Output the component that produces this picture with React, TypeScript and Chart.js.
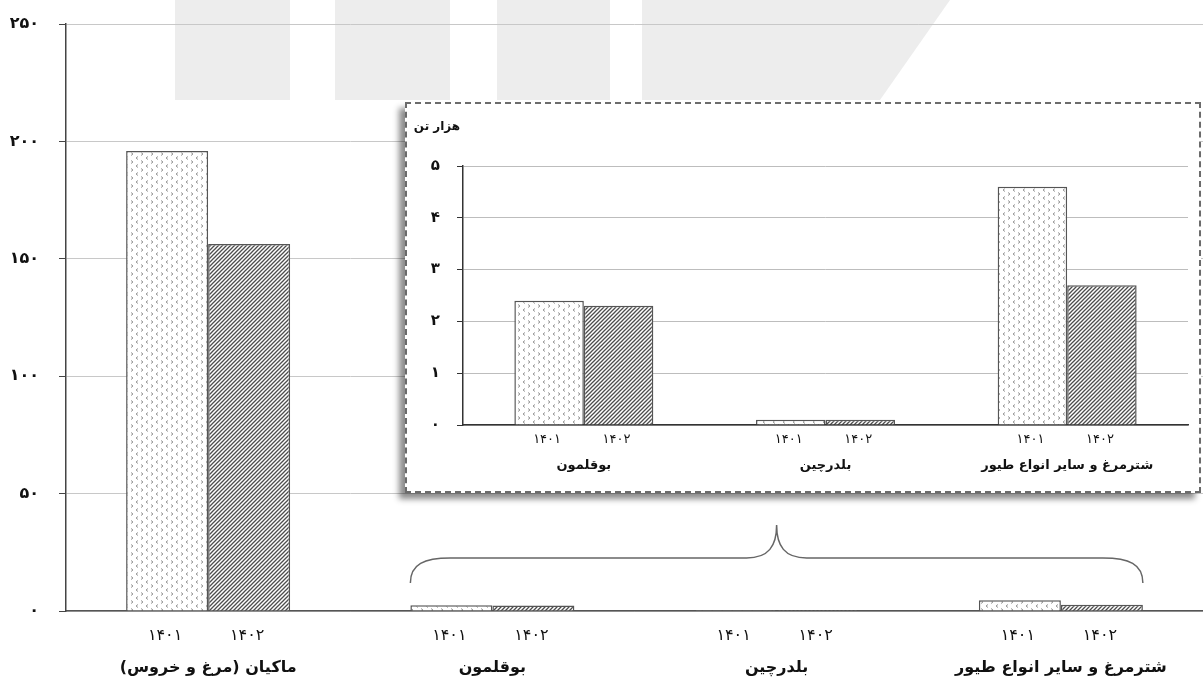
import React, { useEffect, useRef } from "react";
import { Chart, registerables } from "chart.js";

Chart.register(...registerables);

// ---------- data ----------
const categories = ["ماکیان (مرغ و خروس)", "بوقلمون", "بلدرچین", "شترمرغ و سایر انواع طیور"];
const yearLabels = ["1401", "1402"];
const values1401 = [195.9, 2.4, 0.1, 4.6];
const values1402 = [156.3, 2.3, 0.1, 2.7];
const mainTicks = [0, 50, 100, 150, 200, 250];

const insetCategories = ["بوقلمون", "بلدرچین", "شترمرغ و سایر انواع طیور"];
const insetValues1401 = [2.4, 0.1, 4.6];
const insetValues1402 = [2.3, 0.1, 2.7];
const insetTicks = [0, 1, 2, 3, 4, 5];
const insetUnit = "هزار تن";

const FONT = "'DejaVu Sans', 'Noto Sans', sans-serif";

const toFa = (v: number | string) =>
  String(v).replace(/\d/g, (d) => "۰۱۲۳۴۵۶۷۸۹"[Number(d)]);

function makeDots(): CanvasPattern {
  const c = document.createElement("canvas");
  c.width = 10;
  c.height = 8;
  const g = c.getContext("2d")!;
  g.fillStyle = "#ffffff";
  g.fillRect(0, 0, 10, 8);
  g.strokeStyle = "#8c8c8c";
  g.lineWidth = 0.9;
  g.beginPath();
  g.moveTo(1, 0.5);
  g.lineTo(3, 2);
  g.lineTo(1, 3.5);
  g.stroke();
  g.beginPath();
  g.moveTo(8, 4.5);
  g.lineTo(6, 6);
  g.lineTo(8, 7.5);
  g.stroke();
  return g.createPattern(c, "repeat")!;
}

function makeHatch(): CanvasPattern {
  const c = document.createElement("canvas");
  c.width = 4;
  c.height = 4;
  const g = c.getContext("2d")!;
  g.fillStyle = "#ffffff";
  g.fillRect(0, 0, 4, 4);
  g.strokeStyle = "#4d4d4d";
  g.lineWidth = 1.3;
  g.beginPath();
  g.moveTo(0, 4);
  g.lineTo(4, 0);
  g.moveTo(-1, 1);
  g.lineTo(1, -1);
  g.moveTo(3, 5);
  g.lineTo(5, 3);
  g.stroke();
  return g.createPattern(c, "repeat")!;
}

function labelsPlugin(id: string, cats: string[], yearY: number, nameY: number, yearFont: string, nameFont: string) {
  return {
    id,
    afterDraw(chart: any) {
      const ctx = chart.ctx;
      const m0 = chart.getDatasetMeta(0);
      const m1 = chart.getDatasetMeta(1);
      const xs = chart.scales.x;
      ctx.save();
      ctx.fillStyle = "#111";
      ctx.textAlign = "center";
      ctx.textBaseline = "middle";
      cats.forEach((name, i) => {
        ctx.font = yearFont;
        ctx.direction = "ltr";
        ctx.fillText(toFa(yearLabels[0]), m0.data[i].x - 2, yearY);
        ctx.fillText(toFa(yearLabels[1]), m1.data[i].x - 2, yearY);
        ctx.font = nameFont;
        ctx.direction = "rtl";
        ctx.fillText(name, xs.getPixelForValue(i), nameY);
      });
      ctx.restore();
    },
  };
}

const watermarkPlugin = {
  id: "watermark",
  beforeDraw(chart: any) {
    const ctx = chart.ctx;
    ctx.save();
    ctx.fillStyle = "#ededed";
    ctx.fillRect(175, 0, 115, 100);
    ctx.fillRect(335, 0, 115, 100);
    ctx.fillRect(497, 0, 113, 100);
    ctx.beginPath();
    ctx.moveTo(642, 0);
    ctx.lineTo(950, 0);
    ctx.lineTo(880, 100);
    ctx.lineTo(642, 100);
    ctx.closePath();
    ctx.fill();
    ctx.restore();
  },
};

const bracePlugin = {
  id: "brace",
  afterDraw(chart: any) {
    const ctx = chart.ctx;
    const m0 = chart.getDatasetMeta(0);
    const m1 = chart.getDatasetMeta(1);
    const b0 = m0.data[1];
    const b1 = m1.data[3];
    const left = b0.x - b0.width / 2;
    const right = b1.x + b1.width / 2;
    const mid = chart.scales.x.getPixelForValue(2);
    const yEnd = 583;
    const yH = 558;
    const yPeak = 525;
    ctx.save();
    ctx.strokeStyle = "#666";
    ctx.lineWidth = 1.5;
    ctx.beginPath();
    ctx.moveTo(left, yEnd);
    ctx.bezierCurveTo(left, yH + 6, left + 14, yH, left + 40, yH);
    ctx.lineTo(mid - 30, yH);
    ctx.bezierCurveTo(mid - 8, yH, mid, yH - 12, mid, yPeak);
    ctx.bezierCurveTo(mid, yH - 12, mid + 8, yH, mid + 30, yH);
    ctx.lineTo(right - 40, yH);
    ctx.bezierCurveTo(right - 14, yH, right, yH + 6, right, yEnd);
    ctx.stroke();
    ctx.restore();
  },
};

export default function App() {
  const mainRef = useRef<HTMLCanvasElement>(null);
  const insetRef = useRef<HTMLCanvasElement>(null);

  useEffect(() => {
    const dots = makeDots();
    const hatch = makeHatch();

    const mainChart = new Chart(mainRef.current!, {
      type: "bar",
      data: {
        labels: categories,
        datasets: [
          {
            label: yearLabels[0],
            data: values1401,
            backgroundColor: dots,
            borderColor: "#555",
            borderWidth: 1.5,
            barPercentage: 1,
            categoryPercentage: 0.577,
          },
          {
            label: yearLabels[1],
            data: values1402,
            backgroundColor: hatch,
            borderColor: "#555",
            borderWidth: 1.5,
            barPercentage: 1,
            categoryPercentage: 0.577,
          },
        ],
      },
      options: {
        responsive: false,
        animation: false,
        layout: { padding: { top: 24, left: 0, right: 0, bottom: 0 } },
        plugins: { legend: { display: false }, tooltip: { enabled: false } },
        scales: {
          x: {
            type: "category",
            grid: { display: true, drawOnChartArea: false, drawTicks: false },
            border: { display: true, color: "#555", width: 1.5 },
            ticks: { display: false },
            afterFit: (s: any) => {
              s.height = 74;
            },
          },
          y: {
            min: 0,
            max: 250,
            afterBuildTicks: (s: any) => {
              s.ticks = mainTicks.map((v) => ({ value: v }));
            },
            ticks: {
              padding: 20,
              color: "#111",
              font: { family: FONT, size: 16, weight: "bold" },
              callback: (v: any) => toFa(v),
            },
            grid: { color: "#c8c8c8", lineWidth: 1, tickLength: 7, tickColor: "#444" },
            border: { display: true, color: "#444", width: 1.5 },
            afterFit: (s: any) => {
              s.width = 66;
              s.paddingTop = 0;
              s.paddingBottom = 0;
            },
          },
        },
      },
      plugins: [
        watermarkPlugin,
        bracePlugin,
        labelsPlugin("mainLabels", categories, 636, 668, `16px ${FONT}`, `bold 16px ${FONT}`),
      ],
    } as any);

    const insetChart = new Chart(insetRef.current!, {
      type: "bar",
      data: {
        labels: insetCategories,
        datasets: [
          {
            label: yearLabels[0],
            data: insetValues1401,
            backgroundColor: dots,
            borderColor: "#555",
            borderWidth: 1.5,
            barPercentage: 1,
            categoryPercentage: 0.575,
          },
          {
            label: yearLabels[1],
            data: insetValues1402,
            backgroundColor: hatch,
            borderColor: "#555",
            borderWidth: 1.5,
            barPercentage: 1,
            categoryPercentage: 0.575,
          },
        ],
      },
      options: {
        responsive: false,
        animation: false,
        layout: { padding: { top: 62, left: 0, right: 11, bottom: 0 } },
        plugins: { legend: { display: false }, tooltip: { enabled: false } },
        scales: {
          x: {
            type: "category",
            grid: { display: true, drawOnChartArea: false, drawTicks: false },
            border: { display: true, color: "#333", width: 1.5 },
            ticks: { display: false },
            afterFit: (s: any) => {
              s.height = 66;
            },
          },
          y: {
            min: 0,
            max: 5,
            afterBuildTicks: (s: any) => {
              s.ticks = insetTicks.map((v) => ({ value: v }));
            },
            ticks: {
              padding: 17,
              color: "#111",
              font: { family: FONT, size: 15, weight: "bold" },
              callback: (v: any) => toFa(v),
            },
            grid: { color: "#bdbdbd", lineWidth: 1, tickLength: 6, tickColor: "#333" },
            border: { display: true, color: "#333", width: 1.5 },
            afterFit: (s: any) => {
              s.width = 56;
              s.paddingTop = 0;
              s.paddingBottom = 0;
            },
          },
        },
      },
      plugins: [
        labelsPlugin("insetLabels", insetCategories, 336, 362, `13px ${FONT}`, `bold 13px ${FONT}`),
        {
          id: "unit",
          afterDraw(chart: any) {
            const ctx = chart.ctx;
            ctx.save();
            ctx.font = `bold 12px ${FONT}`;
            ctx.fillStyle = "#111";
            ctx.direction = "rtl";
            ctx.textAlign = "center";
            ctx.textBaseline = "middle";
            ctx.fillText(insetUnit, 30, 23);
            ctx.restore();
          },
        },
      ],
    } as any);

    return () => {
      mainChart.destroy();
      insetChart.destroy();
    };
  }, []);

  return (
    <div style={{ position: "fixed", left: 0, top: 0, width: 1203, height: 685, background: "#fff" }}>
      <canvas ref={mainRef} width={1203} height={685} style={{ display: "block", position: "absolute", left: 0, top: 0 }} />
      <div
        style={{
          position: "absolute",
          left: 405,
          top: 102,
          width: 796,
          height: 391,
          boxSizing: "border-box",
          border: "2px dashed #6b6b6b",
          background: "#fff",
          boxShadow: "-6px 6px 6px rgba(0,0,0,0.45)",
        }}
      >
        <canvas ref={insetRef} width={792} height={387} style={{ display: "block" }} />
      </div>
    </div>
  );
}
